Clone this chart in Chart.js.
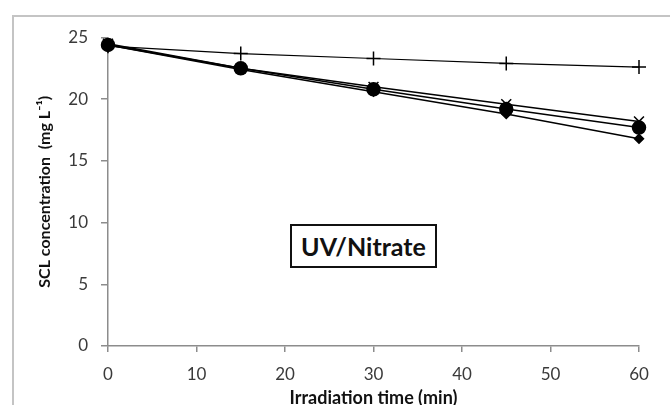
<!DOCTYPE html>
<html>
<head>
<meta charset="utf-8">
<script src="https://cdn.jsdelivr.net/npm/chart.js@4.4.1/dist/chart.umd.min.js"></script>
<style>
  html, body { margin: 0; padding: 0; background: #fff; }
  #wrap { position: relative; width: 670px; height: 405px; overflow: hidden; }
  #frame { position: absolute; left: 12px; top: 15px; width: 700px; height: 420px; border: 2px solid #c4c4c4; box-sizing: border-box; }
  canvas { position: absolute; left: 0; top: 0; }
  #note { position: absolute; left: 290px; top: 224px; width: 147px; height: 44px; border: 2px solid #111; box-sizing: border-box;
          font: bold 25px Lato, "Open Sans", sans-serif; color: #111; text-align: center; line-height: 40px; background: #fff; }
</style>
</head>
<body>
<div id="wrap">
  <div id="frame"></div>
  <canvas id="chartSCL" width="670" height="405"></canvas>
  <div id="note">UV/Nitrate</div>
</div>
<script>
// tempos de irradiação (min)
var tempos = [0, 15, 30, 45, 60];

// concentrações de SCL (mg/L) para cada série
var serieLosango = [24.4, 22.4, 20.6, 18.8, 16.8];
var serieCirculo = [24.4, 22.5, 20.8, 19.2, 17.7];
var serieX       = [24.5, 22.5, 21.0, 19.6, 18.2];
var serieCruz    = [24.3, 23.7, 23.3, 22.9, 22.6];

var ticksX = [0, 10, 20, 30, 40, 50, 60];
var ticksY = [0, 5, 10, 15, 20, 25];

function pontos(valores) {
    return tempos.map(function (t, i) { return { x: t, y: valores[i] }; });
}

var corEixo = '#8c8c8c';
var fonteTicks = { family: 'Lato, "Open Sans", sans-serif', size: 17 };

var ctx = document.getElementById('chartSCL');

var grafico = new Chart(ctx, {
    type: 'line',
    data: {
        datasets: [
            {
                label: 'cruz',
                data: pontos(serieCruz),
                borderColor: '#000', borderWidth: 1.2,
                pointStyle: 'cross', pointRadius: 7, pointBorderWidth: 1.5,
                pointBorderColor: '#000', pointBackgroundColor: '#000'
            },
            {
                label: 'losango',
                data: pontos(serieLosango),
                borderColor: '#000', borderWidth: 1.5,
                pointStyle: 'rectRot', pointRadius: 4.5,
                pointBorderColor: '#000', pointBackgroundColor: '#000'
            },
            {
                label: 'x',
                data: pontos(serieX),
                borderColor: '#000', borderWidth: 1.5,
                pointStyle: 'crossRot', pointRadius: 7, pointBorderWidth: 1.5,
                pointBorderColor: '#000', pointBackgroundColor: '#000'
            },
            {
                label: 'circulo',
                data: pontos(serieCirculo),
                borderColor: '#000', borderWidth: 1.5,
                pointStyle: 'circle', pointRadius: 6.5,
                pointBorderColor: '#000', pointBackgroundColor: '#000'
            }
        ]
    },
    options: {
        responsive: false,
        animation: false,
        clip: false,
        layout: { padding: { left: 0, right: 31, top: 37.5, bottom: 0 } },
        plugins: {
            legend: { display: false },
            tooltip: { enabled: false }
        },
        elements: { line: { tension: 0 } },
        scales: {
            x: {
                type: 'linear',
                min: 0, max: 60,
                afterBuildTicks: function (eixo) {
                    eixo.ticks = ticksX.map(function (v) { return { value: v }; });
                },
                afterFit: function (eixo) { eixo.height = 59; },
                grid: { drawOnChartArea: false, tickLength: 6, tickColor: corEixo, lineWidth: 1.5 },
                border: { color: corEixo, width: 1.5 },
                ticks: { color: '#3a3a3a', font: fonteTicks, padding: 12, maxRotation: 0 },
                title: {
                    display: true,
                    text: 'Irradiation time (min)',
                    color: '#111',
                    font: { family: 'Lato, "Open Sans", sans-serif', size: 18, weight: 'bold' },
                    padding: { top: 0, bottom: -4 }
                }
            },
            y: {
                min: 0, max: 25,
                afterBuildTicks: function (eixo) {
                    eixo.ticks = ticksY.map(function (v) { return { value: v }; });
                },
                afterFit: function (eixo) { eixo.width = 108; },
                grid: { drawOnChartArea: false, tickLength: 7, tickColor: corEixo, lineWidth: 1.5 },
                border: { color: corEixo, width: 1.5 },
                ticks: { color: '#3a3a3a', font: fonteTicks, padding: 13 },
                title: {
                    display: true,
                    text: 'SCL concentration  (mg L\u207B\u00B9)',
                    color: '#111',
                    font: { family: 'Lato, "Open Sans", sans-serif', size: 16, weight: 'bold' },
                    padding: { top: 35, bottom: 0 }
                }
            }
        }
    }
});
</script>
</body>
</html>
